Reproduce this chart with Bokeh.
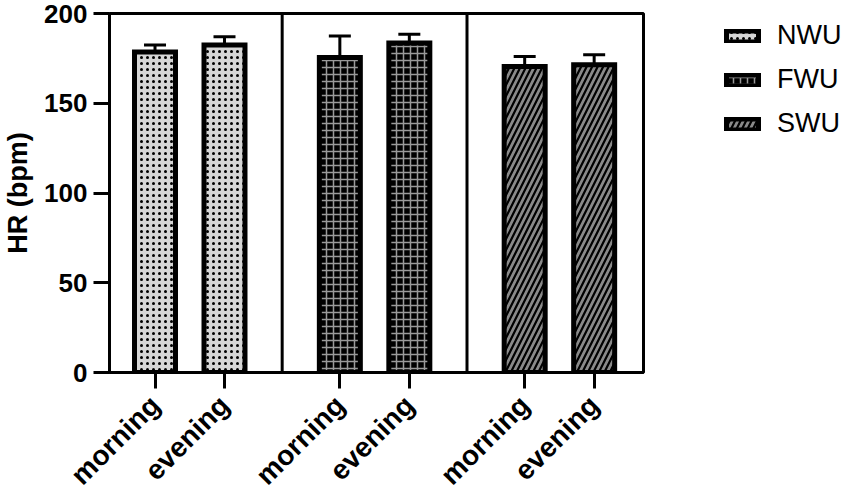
import math
from bokeh.plotting import figure
from bokeh.models import (ColumnDataSource, Legend, LegendItem, Whisker, TeeHead,
                          Span, FixedTicker)
from bokeh.embed import file_html
from bokeh.resources import INLINE

# ---- data ----
groups = ["NWU", "FWU", "SWU"]
times = ["morning", "evening"]
nwu_mean = [178.5, 182.5]
nwu_sd = [4.0, 4.5]
fwu_mean = [175.5, 183.5]
fwu_sd = [12.0, 5.0]
swu_mean = [170.5, 171.5]
swu_sd = [5.5, 5.5]
y_ticks = [0, 50, 100, 150, 200]

means = [nwu_mean, fwu_mean, swu_mean]
sds = [nwu_sd, fwu_sd, swu_sd]

# ---- layout / style ----
STEP = 2.66          # distance between groups (bar spacing = 1)
BAR_W = 0.59
FONT = "Liberation Sans"

styles = [
    dict(fill_color="#d6d6d6", hatch_pattern="dot", hatch_color="black",
         hatch_scale=6, hatch_weight=1.6),
    dict(fill_color="black", hatch_pattern="cross", hatch_color="#9a9a9a",
         hatch_scale=7, hatch_weight=1.5),
    dict(fill_color="#8a8a8a", hatch_pattern="right_diagonal_line", hatch_color="black",
         hatch_scale=11, hatch_weight=2.2),
]

p = figure(frame_width=534, frame_height=359,
           x_range=(-0.655, 7.03), y_range=(0, 200),
           output_backend="svg", toolbar_location=None,
           min_border_left=107, min_border_top=13,
           min_border_bottom=103, min_border_right=194)

p.xgrid.visible = False
p.ygrid.visible = False
p.outline_line_color = "black"
p.outline_line_width = 3
p.outline_line_alpha = 1.0
p.background_fill_color = "white"
p.border_fill_color = "white"

xs_all = []
labels_all = {}
legend_items = []
for g, name in enumerate(groups):
    xs = [g * STEP + j for j in range(len(times))]
    src = ColumnDataSource(dict(
        x=xs, top=means[g],
        upper=[m + s for m, s in zip(means[g], sds[g])],
    ))
    r = p.vbar(x="x", top="top", bottom=0, width=BAR_W, source=src,
               line_color="black", line_width=5, line_join="miter",
               **styles[g])
    w = Whisker(source=src, base="x", lower="top", upper="upper",
                line_color="black", line_width=3,
                upper_head=TeeHead(size=22, line_width=3, line_color="black"),
                lower_head=None)
    w.level = "overlay"
    p.add_layout(w)
    legend_items.append(LegendItem(label=name, renderers=[r]))
    for x, t in zip(xs, times):
        xs_all.append(x)
        labels_all[x] = t
    if g < len(groups) - 1:
        p.add_layout(Span(location=g * STEP + (1 + STEP) / 2, dimension="height",
                          line_color="black", line_width=3))

# x axis
xa = p.xaxis[0]
xa.ticker = FixedTicker(ticks=xs_all)
xa.major_label_overrides = labels_all
xa.major_label_orientation = math.pi / 4
xa.major_label_text_font = FONT
xa.major_label_text_font_style = "bold"
xa.major_label_text_font_size = "28px"
xa.major_label_text_color = "black"
xa.major_tick_out = 16
xa.major_tick_in = 0
xa.minor_tick_line_color = None
xa.axis_line_width = 3
xa.major_tick_line_width = 3
xa.major_label_standoff = 12

# y axis
ya = p.yaxis[0]
ya.ticker = FixedTicker(ticks=y_ticks)
ya.major_label_text_font = FONT
ya.major_label_text_font_style = "bold"
ya.major_label_text_font_size = "26px"
ya.major_label_text_color = "black"
ya.major_tick_out = 16
ya.major_tick_in = 0
ya.minor_tick_line_color = None
ya.axis_line_width = 3
ya.major_tick_line_width = 3
ya.major_label_standoff = 6
ya.axis_label = "HR (bpm)"
ya.axis_label_text_font = FONT
ya.axis_label_text_font_style = "bold"
ya.axis_label_text_font_size = "27px"
ya.axis_label_text_color = "black"
ya.axis_label_standoff = 8

legend = Legend(items=legend_items, location=(79, 233),
                label_text_font=FONT, label_text_font_size="27px",
                label_text_color="black",
                glyph_width=40, glyph_height=14, label_height=30,
                spacing=13, label_standoff=15, padding=0, margin=0,
                border_line_color=None, background_fill_alpha=0)
p.add_layout(legend, "right")

open("out.html", "w").write(file_html(p, INLINE))
